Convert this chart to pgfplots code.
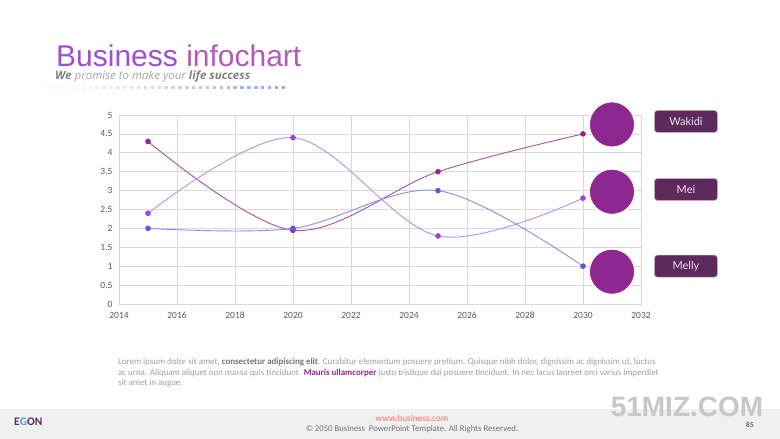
\documentclass[border=0pt]{standalone}
\usepackage{pgfplots}
\pgfplotsset{compat=1.18}
\usepackage{fontspec}
\setmainfont{Carlito}
\newfontfamily\titlefont{Liberation Sans}
\newfontfamily\subfont{Open Sans}
\newfontfamily\boxfont{Lato}

\definecolor{gridgray}{HTML}{D9D9D9}
\definecolor{tickgray}{HTML}{595959}
\definecolor{wakline}{HTML}{A4559E}
\definecolor{wakmark}{HTML}{8E2A8E}
\definecolor{meiline}{HTML}{BC8EE2}
\definecolor{meimark}{HTML}{9B45D5}
\definecolor{melline}{HTML}{8C8CE6}
\definecolor{melmark}{HTML}{6A52DE}
\definecolor{bigcirc}{HTML}{8E278F}
\definecolor{boxfill}{HTML}{5E2A5E}
\definecolor{titleA}{HTML}{9B50D3}
\definecolor{titleB}{HTML}{B25BB7}
\definecolor{dotblue}{HTML}{8DA4E8}

\begin{document}
\begin{tikzpicture}[x=1pt,y=1pt]
\fill[white] (0,0) rectangle (780,439);
\useasboundingbox (0,0) rectangle (780,439);

% footer band
\fill[black!6] (0,0) rectangle (780,29.5);
\node[anchor=base, font=\titlefont\bfseries\fontsize{28}{28}\selectfont, text=black!22, inner sep=0]
  at (687,22) {51MIZ.COM};
\node[anchor=base west, font=\bfseries\fontsize{11.5}{12}\selectfont, inner sep=0]
  at (14,13) {\textcolor{boxfill}{E}\textcolor[HTML]{4BA3E0}{G}\textcolor{boxfill}{ON}};
\node[anchor=base, font=\fontsize{9.3}{10}\selectfont, text={rgb,255:red,255;green,110;blue,110}, inner sep=0]
  at (412,17.5) {www.business.com};
\node[anchor=base, font=\fontsize{8.7}{9}\selectfont, text=black!55, inner sep=0]
  at (412,7) {\textcopyright{} 2050 Business\ \ PowerPoint Template. All Rights Reserved.};
\node[anchor=base east, font=\fontsize{7.5}{8}\selectfont, text=black!80, inner sep=0]
  at (754,11.5) {85};

% title block
\node[anchor=base west, font=\titlefont\fontsize{30}{30}\selectfont, inner sep=0]
  at (56,372.5) {\textcolor{titleA}{Business} \textcolor{titleB}{infochart}};
\node[anchor=base west, font=\subfont\itshape\fontsize{11.5}{12}\selectfont, text=black!35, inner sep=0]
  at (55,359) {\textbf{\textcolor{black!50}{We}} promise to make your \textbf{\textcolor{black!50}{life success}}};
\foreach \i in {0,...,36} {
  \pgfmathsetmacro{\pc}{100*min(1,(\i/36)^1.3)}
  \fill[dotblue!\pc!white] ({35+6.9*\i-1.7},{351.3-1.7}) rectangle ++(3.4,3.4);
}

% body text
\node[anchor=north west, align=left, font=\fontsize{8.9}{10.5}\selectfont, text=black!38, inner sep=0]
  at (118,80.5) {Lorem ipsum dolor sit amet, \textbf{\textcolor{black!55}{consectetur adipiscing elit}}. Curabitur elementum posuere pretium. Quisque nibh dolor, dignissim ac dignissim ut, luctus\\
ac urna. Aliquam aliquet non massa quis tincidunt. \textbf{\textcolor{bigcirc}{Mauris ullamcorper}} justo tristique dui posuere tincidunt. In nec lacus laoreet orci varius imperdiet\\
sit amet in augue.};

\begin{axis}[
  at={(119pt,135pt)}, anchor=south west,
  width=522pt, height=189pt, scale only axis,
  xmin=2014, xmax=2032, ymin=0, ymax=5,
  xtick={2014,2016,2018,2020,2022,2024,2026,2028,2030,2032},
  ytick={0,0.5,1,1.5,2,2.5,3,3.5,4,4.5,5},
  grid=major,
  grid style={draw=gridgray, line width=0.7pt},
  axis line style={draw=gridgray, line width=0.7pt},
  major tick length=0pt,
  tick label style={font=\fontsize{9.5}{10}\selectfont, text=tickgray},
  xticklabel style={anchor=base, text height=7pt, text depth=0pt, yshift=-15pt},
  yticklabel style={xshift=-3pt},
  /pgf/number format/assume math mode=true,
  /pgf/number format/1000 sep={},
  clip=false,
]
% Wakidi
\addplot[wakline, line width=0.9pt, smooth, tension=0.55, mark=*, mark size=2.3pt,
  mark options={fill=wakmark, draw=wakmark}]
  coordinates {(2015,4.3) (2020,1.95) (2025,3.5) (2030,4.5)};
% Mei
\addplot[meiline, line width=0.9pt, smooth, tension=0.55, mark=*, mark size=2.3pt,
  mark options={fill=meimark, draw=meimark}]
  coordinates {(2015,2.4) (2020,4.4) (2025,1.8) (2030,2.8)};
% Melly
\addplot[melline, line width=0.9pt, smooth, tension=0.55, mark=*, mark size=2.3pt,
  mark options={fill=melmark, draw=melmark}]
  coordinates {(2015,2.0) (2020,2.0) (2025,3.0) (2030,1.0)};
% big badges
\addplot[only marks, mark=*, mark size=22.5pt,
  mark options={fill=bigcirc, draw=white, line width=0.8pt}]
  coordinates {(2031,4.75) (2031,2.97) (2031,0.855)};

\tikzset{namebox/.style={fill=boxfill, draw=boxfill!40, line width=0.6pt, rounded corners=3pt,
  minimum width=63pt, minimum height=22pt, inner sep=0pt, text=white!88!boxfill,
  font=\boxfont\fontsize{11}{12}\selectfont}}
\node[namebox] at (axis cs:2033.55,4.83) {Wakidi};
\node[namebox] at (axis cs:2033.55,3.03) {Mei};
\node[namebox] at (axis cs:2033.55,1.0) {Melly};
\end{axis}
\end{tikzpicture}
\end{document}
